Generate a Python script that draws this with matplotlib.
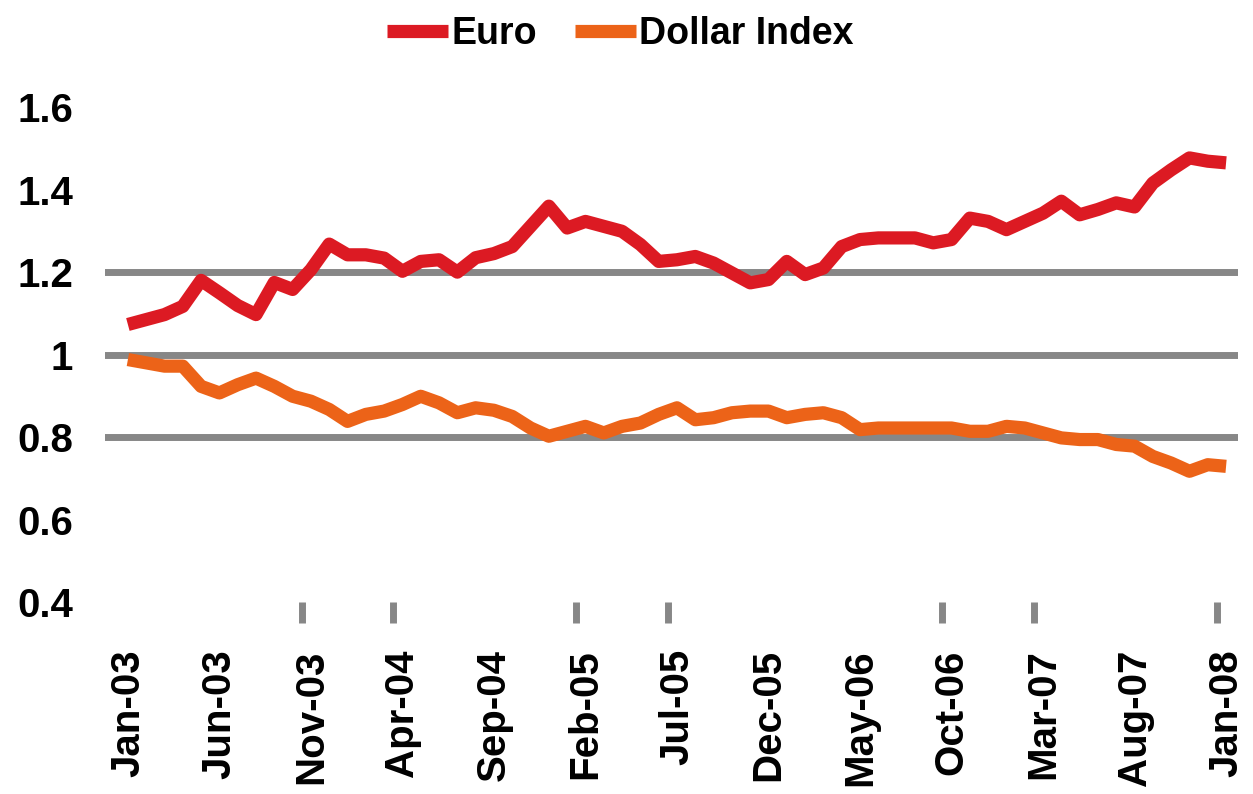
import matplotlib.pyplot as plt

# month-end series, Jan-03 .. Jan-08
euro = [1.073, 1.085, 1.097, 1.117, 1.180, 1.150, 1.119, 1.097, 1.175, 1.158,
        1.206, 1.268, 1.242, 1.242, 1.234, 1.202, 1.226, 1.230, 1.200, 1.235,
        1.245, 1.262, 1.311, 1.360, 1.307, 1.323, 1.311, 1.299, 1.267, 1.226,
        1.230, 1.238, 1.222, 1.198, 1.174, 1.182, 1.226, 1.194, 1.210, 1.262,
        1.279, 1.283, 1.283, 1.283, 1.271, 1.279, 1.331, 1.323, 1.303, 1.323,
        1.343, 1.372, 1.339, 1.352, 1.368, 1.358, 1.416, 1.448, 1.477, 1.469,
        1.465]
dollar = [0.988, 0.980, 0.972, 0.972, 0.923, 0.907, 0.927, 0.943, 0.923, 0.899,
          0.887, 0.867, 0.838, 0.855, 0.863, 0.879, 0.899, 0.883, 0.859, 0.871,
          0.865, 0.850, 0.822, 0.802, 0.814, 0.826, 0.810, 0.826, 0.834, 0.855,
          0.871, 0.842, 0.847, 0.859, 0.863, 0.863, 0.847, 0.855, 0.859, 0.847,
          0.818, 0.822, 0.822, 0.822, 0.822, 0.822, 0.814, 0.814, 0.826, 0.822,
          0.810, 0.798, 0.794, 0.794, 0.782, 0.778, 0.753, 0.737, 0.717, 0.733,
          0.729]
months = list(range(len(euro)))

xlabels = ['Jan-03', 'Jun-03', 'Nov-03', 'Apr-04', 'Sep-04', 'Feb-05', 'Jul-05',
           'Dec-05', 'May-06', 'Oct-06', 'Mar-07', 'Aug-07', 'Jan-08']
xlabel_pos = list(range(0, 61, 5))
# the few tick marks that show under the axis
tick_marks = [9.5, 14.5, 24.5, 29.5, 44.5, 49.5, 59.5]

yticks = [0.4, 0.6, 0.8, 1.0, 1.2, 1.4, 1.6]
ylabels = ['0.4', '0.6', '0.8', '1', '1.2', '1.4', '1.6']
gridlines = [0.8, 1.0, 1.2]

plt.rcParams['font.family'] = ['Liberation Sans', 'DejaVu Sans']
plt.rcParams['font.weight'] = 'bold'

fig = plt.figure(figsize=(12.53, 7.94), dpi=100)
ax = fig.add_axes([0.0838, 0.2418, 0.9042, 0.6232])

for g in gridlines:
    ax.axhline(g, color='#878787', linewidth=5, zorder=1)

l1, = ax.plot(months, euro, color='#DC1A23', linewidth=9.5, solid_capstyle='butt',
              solid_joinstyle='round', label='Euro', zorder=3)
l2, = ax.plot(months, dollar, color='#EC6318', linewidth=9.5, solid_capstyle='butt',
              solid_joinstyle='round', label='Dollar Index', zorder=3)

ax.set_xlim(-1.25, 60.65)
ax.set_ylim(0.4, 1.6)

ax.set_yticks(yticks)
ax.set_yticklabels(ylabels, fontsize=29, fontweight='bold')
ax.tick_params(axis='y', length=0, pad=23)

ax.set_xticks(xlabel_pos)
ax.set_xticklabels(xlabels, rotation=90, fontsize=29, fontweight='bold')
ax.set_xticks(tick_marks, minor=True)
ax.tick_params(axis='x', which='major', length=0, pad=34)
ax.tick_params(axis='x', which='minor', length=15, width=5, color='#878787',
               direction='out')

for s in ax.spines.values():
    s.set_visible(False)

fig.legend(handles=[l1, l2], loc='upper center', bbox_to_anchor=(0.495, 1.022), ncol=2,
           frameon=False, handlelength=1.63, handletextpad=0.08,
           columnspacing=1.0, prop={'weight': 'bold', 'size': 27})

fig.savefig('out.png', dpi=100)
